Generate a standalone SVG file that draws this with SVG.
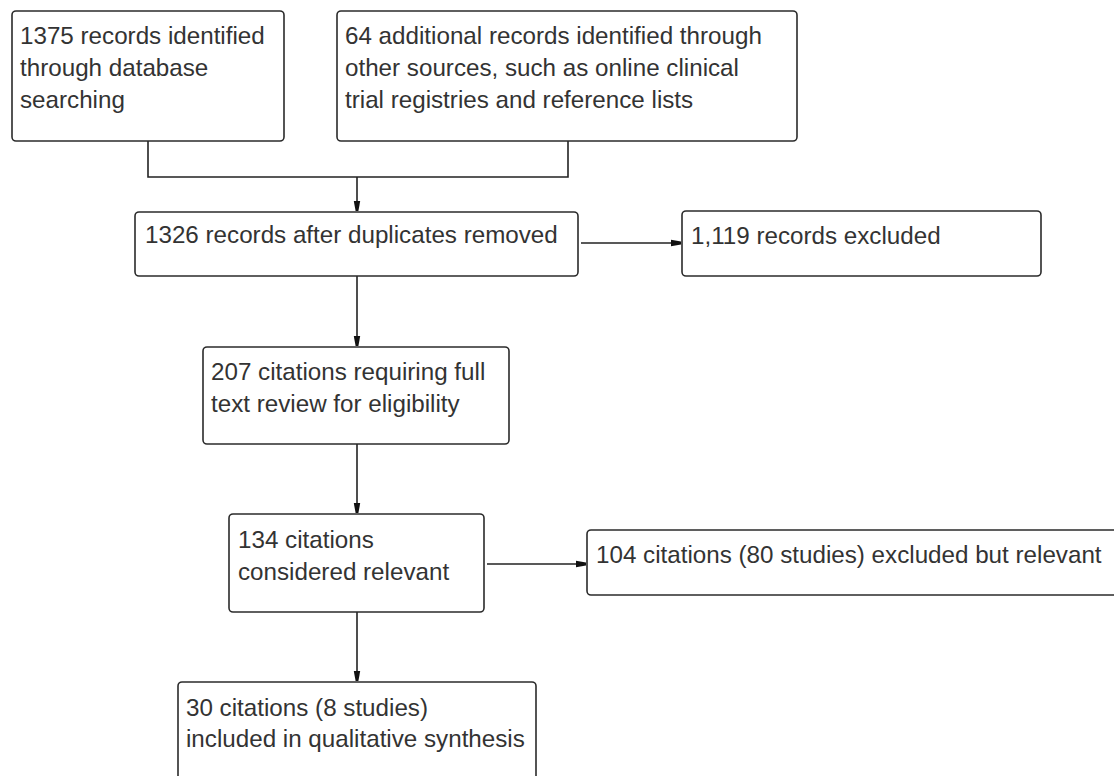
<svg xmlns="http://www.w3.org/2000/svg" width="1114" height="776" viewBox="0 0 1114 776">
<style>
.box{fill:#fff;stroke:#2b2b2b;stroke-width:1.6}
.t{font-family:"Liberation Sans",Arial,sans-serif;font-size:24.2px;fill:#333}
.c{fill:none;stroke:#222;stroke-width:1.6}
</style>
<defs>
<marker id="ah" viewBox="0 0 10 8" refX="10" refY="4" markerWidth="10" markerHeight="8" markerUnits="userSpaceOnUse" orient="auto">
<path d="M0,0.8 L10,2.6 L10,5.4 L0,7.2 Z" fill="#111"/>
</marker>
</defs>
<rect width="1114" height="776" fill="#fff"/>
<g id="connectors">
<polyline class="c" points="148,141 148,177 568,177 568,141"/>
<line class="c" x1="357" y1="177" x2="357" y2="211" marker-end="url(#ah)"/>
<line class="c" x1="581" y1="243" x2="681" y2="243" marker-end="url(#ah)"/>
<line class="c" x1="357" y1="276" x2="357" y2="346" marker-end="url(#ah)"/>
<line class="c" x1="357" y1="444" x2="357" y2="513" marker-end="url(#ah)"/>
<line class="c" x1="487" y1="564" x2="586" y2="564" marker-end="url(#ah)"/>
<line class="c" x1="357" y1="612" x2="357" y2="681" marker-end="url(#ah)"/>
</g>
<g id="n1"><rect class="box" x="12" y="11" width="272" height="130" rx="4"/>
<text class="t" x="20" y="44">1375 records identified</text>
<text class="t" x="20" y="76">through database</text>
<text class="t" x="20" y="108">searching</text></g>
<g id="n2"><rect class="box" x="337" y="11" width="460" height="130" rx="4"/>
<text class="t" x="345" y="44">64 additional records identified through</text>
<text class="t" x="345" y="76">other sources, such as online clinical</text>
<text class="t" x="345" y="108">trial registries and reference lists</text></g>
<g id="n3"><rect class="box" x="135" y="212" width="443" height="64" rx="4"/>
<text class="t" x="145" y="243">1326 records after duplicates removed</text></g>
<g id="n4"><rect class="box" x="682" y="211" width="359" height="65" rx="4"/>
<text class="t" x="691" y="244">1,119 records excluded</text></g>
<g id="n5"><rect class="box" x="203" y="347" width="306" height="97" rx="4"/>
<text class="t" x="211" y="380">207 citations requiring full</text>
<text class="t" x="211" y="412">text review for eligibility</text></g>
<g id="n6"><rect class="box" x="229" y="514" width="255" height="98" rx="4"/>
<text class="t" x="238" y="548">134 citations</text>
<text class="t" x="238" y="580">considered relevant</text></g>
<g id="n7"><rect class="box" x="587" y="530" width="540" height="65" rx="4"/>
<text class="t" x="596" y="563">104 citations (80 studies) excluded but relevant</text></g>
<g id="n8"><rect class="box" x="178" y="682" width="358" height="130" rx="4"/>
<text class="t" x="186" y="716">30 citations (8 studies)</text>
<text class="t" x="186" y="747">included in qualitative synthesis</text></g>
</svg>
